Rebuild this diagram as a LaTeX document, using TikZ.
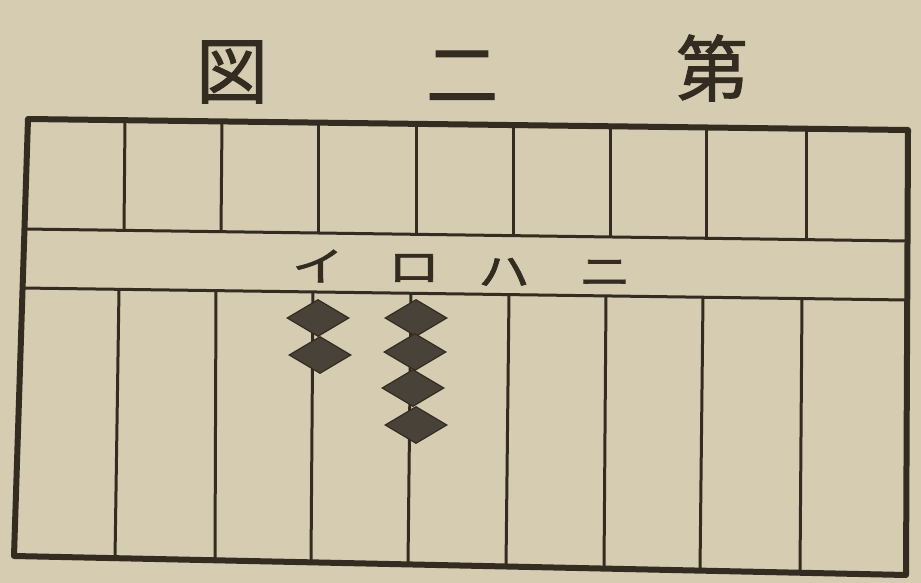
\documentclass[tikz,border=0pt]{standalone}
\usepackage{fontspec}
\newfontfamily\jpfont{Noto Sans CJK JP}[FakeBold=1.5]
\usetikzlibrary{shapes.geometric}
\definecolor{paper}{RGB}{214,204,178}
\definecolor{ink}{RGB}{52,44,32}
\definecolor{beadc}{RGB}{72,66,56}
\tikzset{
  frameline/.style={draw=ink, line width=6pt, line join=round},
  rodline/.style={draw=ink, line width=3pt},
  beamline/.style={draw=ink, line width=3pt},
  bead/.style={diamond, draw=ink, line width=1.2pt, fill=beadc, inner sep=0pt, minimum width=62pt, minimum height=37pt},
  titlechar/.style={font=\jpfont\fontsize{72}{72}\selectfont, text=ink, inner sep=0pt},
  kana/.style={font=\jpfont\fontsize{40}{40}\selectfont, text=ink, inner sep=0pt, xscale=1.3}
}
\begin{document}
\begin{tikzpicture}[x=1pt,y=-1pt]
\useasboundingbox[fill=paper] (0,0) rectangle (921,583);
% title
\node[titlechar] (t1) at (232,72) {図};
\node[titlechar] (t2) at (462,76) {二};
\node[titlechar] (t3) at (712,68) {第};
% frame corners
\coordinate (TL) at (28,119);
\coordinate (TR) at (908,130);
\coordinate (BR) at (906,575);
\coordinate (BL) at (14,556);
% beam lines
\coordinate (b1L) at (24,229); \coordinate (b1R) at (907,241);
\coordinate (b2L) at (22,288); \coordinate (b2R) at (907,300);
\draw[beamline] (b1L) -- (b1R);
\draw[beamline] (b2L) -- (b2R);
% upper rods
\foreach \xt/\xb [count=\i] in {125/124,222/221,318/318,416/416,513/513,610/610,706/706,806/806}{
  \coordinate (ut\i) at (\xt,{119+\xt*0.0125});
  \coordinate (ub\i) at (\xb,{229+\xb*0.0136});
  \draw[rodline] (ut\i) -- (ub\i);
}
% lower rods
\foreach \xt/\xb [count=\i] in {119/115,216/215,313/311,411/408,509/506,606/604,703/700,802/800}{
  \coordinate (lt\i) at (\xt,{288+\xt*0.0136});
  \coordinate (lb\i) at (\xb,{556+\xb*0.021});
  \draw[rodline] (lt\i) -- (lb\i);
}
% outer frame
\draw[frameline] (TL) -- (TR) -- (BR) -- (BL) -- cycle;
% beam labels
\node[kana] (i) at (318,266) {イ};
\node[kana] (ro) at (414,268) {ロ};
\node[kana] (ha) at (504,272) {ハ};
\node[kana] (ni) at (605,273) {ニ};
% beads
\node[bead] (a1) at (318,318) {};
\node[bead] (a2) at (320,355) {};
\node[bead] (c1) at (416,318) {};
\node[bead] (c2) at (415,352) {};
\node[bead] (c3) at (413,388) {};
\node[bead] (c4) at (416,425) {};
\end{tikzpicture}
\end{document}
